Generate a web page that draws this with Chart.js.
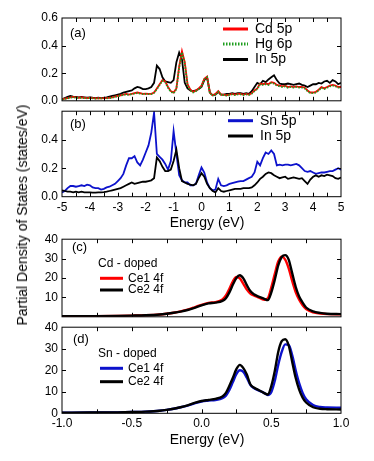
<!DOCTYPE html>
<html>
<head>
<meta charset="utf-8">
<script src="https://cdn.jsdelivr.net/npm/chart.js@4.4.0/dist/chart.umd.min.js"></script>
<style>
  body { margin: 0; background: #fff; }
  #wrap { position: relative; width: 374px; height: 461px; overflow: hidden; }
  canvas { position: absolute; left: 0; }
  #ytitle { position: absolute; left: 22px; top: 215px; transform: translate(-50%, -50%) rotate(-90deg);
            font: 14px "Liberation Sans", Arial, sans-serif; white-space: nowrap; color: #000; }
</style>
</head>
<body>
<div id="wrap">
  <canvas id="pa" width="374" height="112" style="top:0px"></canvas>
  <canvas id="pb" width="374" height="132" style="top:100px"></canvas>
  <canvas id="pc" width="374" height="100" style="top:228px"></canvas>
  <canvas id="pd" width="374" height="145" style="top:316px"></canvas>
  <div id="ytitle">Partial Density of States (states/eV)</div>
</div>
<script>
// energy grid, panels (a) and (b)
const energyAB = [-5.0, -4.9, -4.8, -4.7, -4.6, -4.5, -4.4, -4.3, -4.2, -4.1,
  -4.0, -3.9, -3.8, -3.7, -3.6, -3.5, -3.4, -3.3, -3.2, -3.1,
  -3.0, -2.9, -2.8, -2.7, -2.6, -2.5, -2.4, -2.3, -2.2, -2.1,
  -2.0, -1.9, -1.8, -1.7, -1.6, -1.5, -1.4, -1.3, -1.2, -1.1,
  -1.0, -0.9, -0.8, -0.7, -0.6, -0.5, -0.4, -0.3, -0.2, -0.1,
  0.0, 0.1, 0.2, 0.3, 0.4, 0.5, 0.6, 0.7, 0.8, 0.9,
  1.0, 1.1, 1.2, 1.3, 1.4, 1.5, 1.6, 1.7, 1.8, 1.9,
  2.0, 2.1, 2.2, 2.3, 2.4, 2.5, 2.6, 2.7, 2.8, 2.9,
  3.0, 3.1, 3.2, 3.3, 3.4, 3.5, 3.6, 3.7, 3.8, 3.9,
  4.0, 4.1, 4.2, 4.3, 4.4, 4.5, 4.6, 4.7, 4.8, 4.9, 5.0];

// (a)
const cd5p = [.012, .015, .02, .025, .028, .025, .022, .025, .022, .02,
  .022, .02, .018, .02, .018, .02, .02, .022, .025, .03,
  .035, .04, .045, .05, .045, .05, .055, .06, .055, .05,
  .052, .05, .05, .06, .09, .12, .15, .14, .1, .07,
  .06, .09, .25, .36, .28, .12, .08, .065, .075, .09,
  .11, .16, .175, .06, .04, .05, .07, .045, .045, .04,
  .045, .05, .045, .05, .05, .045, .05, .045, .055, .075,
  .09, .125, .12, .125, .12, .135, .13, .115, .11, .105,
  .11, .1, .105, .1, .105, .1, .1, .095, .075, .06,
  .06, .065, .08, .1, .09, .1, .11, .115, .11, .1, .1];
const hg6p = [.01, .014, .018, .022, .025, .023, .02, .022, .02, .018,
  .02, .018, .016, .018, .017, .018, .018, .02, .023, .028,
  .033, .038, .042, .047, .043, .048, .052, .057, .052, .048,
  .05, .048, .048, .058, .085, .115, .145, .135, .095, .065,
  .055, .085, .24, .35, .27, .11, .075, .06, .07, .085,
  .105, .155, .17, .055, .037, .045, .065, .042, .042, .038,
  .042, .047, .042, .047, .047, .042, .047, .042, .052, .07,
  .085, .12, .115, .12, .115, .13, .125, .11, .105, .1,
  .105, .095, .1, .095, .1, .095, .095, .09, .07, .055,
  .055, .06, .075, .095, .085, .095, .105, .11, .105, .095, .095];
const in5pA = [.012, .02, .028, .035, .03, .028, .025, .028, .025, .022,
  .025, .022, .02, .022, .02, .022, .025, .03, .035, .04,
  .045, .05, .06, .065, .07, .075, .09, .1, .095, .085,
  .085, .09, .1, .13, .255, .23, .17, .14, .135, .13,
  .15, .28, .35, .3, .13, .09, .075, .07, .075, .085,
  .1, .15, .17, .06, .04, .045, .065, .045, .045, .05,
  .05, .055, .05, .055, .055, .05, .055, .05, .07, .1,
  .13, .12, .145, .135, .155, .17, .185, .15, .125, .12,
  .12, .125, .12, .115, .12, .125, .115, .11, .1, .11,
  .12, .12, .13, .125, .14, .145, .13, .15, .14, .12, .13];

// (b)
const sn5p = [.03, .04, .06, .075, .075, .07, .075, .08, .075, .085,
  .08, .065, .06, .06, .05, .055, .065, .07, .08, .09,
  .11, .13, .16, .22, .27, .27, .285, .24, .22, .26,
  .31, .36, .45, .59, .3, .28, .26, .23, .19, .25,
  .46, .3, .15, .115, .1, .1, .08, .08, .09, .15,
  .205, .17, .1, .06, .045, .05, .125, .08, .075, .08,
  .09, .095, .1, .105, .11, .11, .12, .13, .14, .17,
  .245, .22, .27, .31, .3, .325, .3, .22, .225, .22,
  .225, .225, .22, .225, .23, .22, .2, .18, .175, .18,
  .17, .16, .165, .17, .17, .175, .18, .18, .19, .2, .19];
const in5pB = [.045, .04, .035, .035, .03, .035, .03, .035, .03, .03,
  .03, .028, .028, .03, .03, .032, .035, .04, .045, .05,
  .055, .06, .07, .08, .09, .1, .09, .095, .1, .105,
  .105, .11, .115, .13, .275, .25, .21, .18, .18, .19,
  .25, .33, .2, .11, .1, .09, .085, .08, .09, .13,
  .165, .14, .09, .06, .04, .03, .06, .04, .035, .04,
  .045, .05, .055, .055, .055, .06, .06, .06, .065, .08,
  .1, .125, .14, .16, .17, .165, .15, .14, .13, .135,
  .14, .125, .13, .135, .13, .125, .13, .11, .09, .12,
  .14, .15, .14, .15, .145, .155, .15, .145, .13, .125, .135];

// energy grid, panels (c) and (d)
const energyCD = [-1.0, -0.8, -0.6, -0.5, -0.4, -0.3, -0.25, -0.2, -0.15, -0.1, -0.05,
  0, 0.05, 0.1, 0.15, 0.175, 0.2, 0.225, 0.25, 0.275, 0.3, 0.325, 0.35, 0.375, 0.4,
  0.45, 0.475, 0.5, 0.525, 0.55, 0.575, 0.6, 0.625, 0.65, 0.675, 0.7, 0.725, 0.75,
  0.8, 0.85, 0.9, 1.0];

// (c) Cd - doped
const cdCe1 = [0.3, 0.35, 0.45, 0.6, 0.8, 1.2, 1.6, 2.1, 2.8, 3.7, 4.9,
  6.2, 7.2, 7.6, 9.0, 11.0, 14.5, 18.3, 20.5, 19.8, 17.0, 14.0, 12.0, 11.0, 10.3,
  8.8, 9.5, 15.0, 22.0, 28.5, 31.0, 29.5, 25.0, 18.5, 12.8, 8.8, 6.0, 4.0,
  2.3, 1.7, 1.4, 1.3];
const cdCe2 = [0.3, 0.35, 0.45, 0.6, 0.8, 1.2, 1.6, 2.1, 2.7, 3.5, 4.6,
  5.9, 6.9, 7.3, 8.2, 9.6, 12.6, 16.6, 20.0, 21.4, 19.8, 16.3, 13.3, 11.6, 10.7,
  9.3, 8.6, 12.5, 19.0, 26.5, 30.8, 31.8, 29.5, 22.5, 15.5, 10.5, 7.3, 4.8,
  2.8, 2.0, 1.6, 1.4];

// (d) Sn - doped
const snCe1 = [0.3, 0.35, 0.45, 0.6, 0.8, 1.2, 1.6, 2.1, 2.8, 3.6, 4.6,
  5.5, 5.9, 6.2, 7.0, 8.2, 10.8, 14.5, 18.2, 20.0, 19.2, 16.5, 13.2, 11.7, 10.9,
  9.4, 8.5, 9.8, 15.0, 22.5, 28.5, 32.0, 31.8, 27.0, 20.0, 14.0, 9.5, 6.5,
  3.8, 2.9, 2.7, 2.6];
const snCe2 = [0.3, 0.35, 0.45, 0.6, 0.8, 1.2, 1.6, 2.1, 2.8, 3.7, 4.8,
  5.7, 6.2, 6.7, 7.8, 9.5, 12.8, 16.5, 20.5, 22.5, 21.0, 18.0, 13.5, 12.0, 11.1,
  9.4, 8.7, 12.5, 19.5, 28.5, 33.5, 34.4, 31.5, 24.0, 16.5, 11.0, 7.3, 5.0,
  2.8, 2.1, 1.9, 1.8];

// ticks
const xLabelsAB = [-5, -4, -3, -2, -1, 0, 1, 2, 3, 4, 5];
const xMarksAB = [-4.5, -4, -3.5, -3, -2.5, -2, -1.5, -1, -0.5, 0, 0.5, 1, 1.5, 2, 2.5, 3, 3.5, 4, 4.5];
const yLabelsA = [0, 0.2, 0.4, 0.6];
const yLabelsB = [0, 0.2, 0.4];
const yMarksAB = [0.2, 0.4];
const xLabelsCD = [-1, -0.5, 0, 0.5, 1];
const xMarksCD = [-0.75, -0.5, -0.25, 0, 0.25, 0.5, 0.75];
const yLabelsC = [10, 20, 30, 40];
const yLabelsD = [0, 10, 20, 30, 40];
const yMarksCD = [10, 20, 30];

const FONT = '"Liberation Sans", Arial, Helvetica, sans-serif';
Chart.defaults.font.family = FONT;
Chart.defaults.color = '#000';

const RED = '#ff0000', GREEN = '#1e9e1e', BLUE = '#0c12cc', BLACK = '#000000';

// frame, inward ticks, panel texts and legend
const frame = {
  id: 'frame',
  afterDatasetsDraw(chart, args, o) {
    const ctx = chart.ctx, a = chart.chartArea;
    const x = chart.scales.x, y = chart.scales.y;
    ctx.save();
    ctx.strokeStyle = '#000';
    ctx.lineWidth = 1;
    ctx.strokeRect(a.left, a.top, a.right - a.left, a.bottom - a.top);
    ctx.beginPath();
    o.xMarks.forEach(v => {
      const p = Math.round(x.getPixelForValue(v)) + 0.5;
      ctx.moveTo(p, a.top); ctx.lineTo(p, a.top + 4);
      ctx.moveTo(p, a.bottom); ctx.lineTo(p, a.bottom - 4);
    });
    o.yMarks.forEach(v => {
      const p = Math.round(y.getPixelForValue(v)) + 0.5;
      ctx.moveTo(a.left, p); ctx.lineTo(a.left + 4, p);
      ctx.moveTo(a.right, p); ctx.lineTo(a.right - 4, p);
    });
    ctx.stroke();

    ctx.fillStyle = '#000';
    ctx.textBaseline = 'middle';
    o.texts.forEach(t => {
      ctx.font = t.size + 'px ' + FONT;
      ctx.textAlign = t.align || 'left';
      ctx.fillText(t.text, t.x, t.y);
    });

    const lg = o.legend;
    chart.data.datasets.forEach((ds, i) => {
      const ly = lg.ys[i];
      ctx.strokeStyle = ds.borderColor;
      ctx.lineWidth = lg.width;
      ctx.setLineDash(ds.borderDash || []);
      ctx.beginPath();
      ctx.moveTo(lg.x0, ly); ctx.lineTo(lg.x1, ly);
      ctx.stroke();
      ctx.setLineDash([]);
      ctx.font = lg.size + 'px ' + FONT;
      ctx.textAlign = 'left';
      ctx.fillText(ds.label, lg.tx, ly);
    });
    ctx.restore();
  }
};

function panel(id, o) {
  return new Chart(document.getElementById(id), {
    type: 'line',
    data: {
      datasets: o.sets.map(s => ({
        label: s.label,
        data: o.energy.map((e, i) => ({ x: e, y: s.values[i] })),
        borderColor: s.color,
        borderWidth: o.lineWidth,
        borderDash: s.dash || [],
        pointRadius: 0,
        fill: false,
        order: s.order,
        tension: 0,
        cubicInterpolationMode: o.smooth ? 'monotone' : 'default'
      }))
    },
    options: {
      responsive: false,
      animation: false,
      events: [],
      layout: { padding: o.pad },
      scales: {
        x: {
          type: 'linear', min: o.xRange[0], max: o.xRange[1],
          grid: { display: false, drawTicks: false }, border: { display: false },
          afterBuildTicks: s => { s.ticks = o.xLabels.map(v => ({ value: v })); },
          afterFit: s => { s.height = o.xHeight; },
          ticks: { display: o.showX, autoSkip: false, maxRotation: 0, padding: o.xPad,
                   font: { size: 12 }, callback: o.xFmt }
        },
        y: {
          min: o.yRange[0], max: o.yRange[1],
          grid: { display: false, drawTicks: false }, border: { display: false },
          afterBuildTicks: s => { s.ticks = o.yLabels.map(v => ({ value: v })); },
          afterFit: s => { s.width = 62; },
          ticks: { padding: 4, font: { size: 12 }, callback: o.yFmt }
        }
      },
      plugins: {
        legend: { display: false },
        tooltip: { enabled: false },
        frame: { xMarks: o.xMarks, yMarks: o.yMarks, texts: o.texts, legend: o.legend }
      }
    },
    plugins: [frame]
  });
}

// (a)
panel('pa', {
  energy: energyAB, lineWidth: 1.8, smooth: false,
  sets: [
    { label: 'Cd 5p', values: cd5p, color: RED, order: 1 },
    { label: 'Hg 6p', values: hg6p, color: GREEN, dash: [1.5, 1.5], order: 0 },
    { label: 'In 5p', values: in5pA, color: BLACK, order: 2 }
  ],
  pad: { top: 18, right: 33, bottom: 4, left: 0 },
  xRange: [-5, 5], xLabels: xLabelsAB, xMarks: xMarksAB, showX: false, xHeight: 2, xPad: 0,
  xFmt: v => String(v),
  yRange: [0, 0.6], yLabels: yLabelsA, yMarks: yMarksAB, yFmt: v => v.toFixed(1),
  texts: [{ text: '(a)', x: 70, y: 33, size: 13 }],
  legend: { x0: 223, x1: 248, tx: 255, ys: [29, 44, 59.5], size: 14, width: 3 }
});

// (b)
panel('pb', {
  energy: energyAB, lineWidth: 1.8, smooth: false,
  sets: [
    { label: 'Sn 5p', values: sn5p, color: BLUE, order: 1 },
    { label: 'In 5p', values: in5pB, color: BLACK, order: 0 }
  ],
  pad: { top: 6, right: 33, bottom: 0.9, left: 0 },
  xRange: [-5, 5], xLabels: xLabelsAB, xMarks: xMarksAB, showX: true, xHeight: 34.4, xPad: 3.4,
  xFmt: v => String(v),
  yRange: [0, 0.6], yLabels: yLabelsB, yMarks: yMarksAB, yFmt: v => v.toFixed(1),
  texts: [{ text: '(b)', x: 70, y: 24, size: 13 },
          { text: 'Energy (eV)', x: 207, y: 122.7, size: 14, align: 'center' }],
  legend: { x0: 228, x1: 253, tx: 260, ys: [20.7, 36], size: 14, width: 3 }
});

// (c)
panel('pc', {
  energy: energyCD, lineWidth: 2.4, smooth: true,
  sets: [
    { label: 'Ce1 4f', values: cdCe1, color: RED, order: 1 },
    { label: 'Ce2 4f', values: cdCe2, color: BLACK, order: 0 }
  ],
  pad: { top: 7, right: 33, bottom: 2.5, left: 0 },
  xRange: [-1, 1], xLabels: xLabelsCD, xMarks: xMarksCD, showX: false, xHeight: 2, xPad: 0,
  xFmt: v => v.toFixed(1),
  yRange: [0, 40], yLabels: yLabelsC, yMarks: yMarksCD, yFmt: v => String(v),
  texts: [{ text: '(c)', x: 72, y: 19.3, size: 13 },
          { text: 'Cd - doped', x: 98, y: 35.3, size: 12 }],
  legend: { x0: 100, x1: 123, tx: 128, ys: [50.3, 62], size: 12, width: 3 }
});

// (d)
panel('pd', {
  energy: energyCD, lineWidth: 2.4, smooth: true,
  sets: [
    { label: 'Ce1 4f', values: snCe1, color: BLUE, order: 1 },
    { label: 'Ce2 4f', values: snCe2, color: BLACK, order: 0 }
  ],
  pad: { top: 7.5, right: 33, bottom: 12.6, left: 0 },
  xRange: [-1, 1], xLabels: xLabelsCD, xMarks: xMarksCD, showX: true, xHeight: 35.1, xPad: 3.5,
  xFmt: v => v.toFixed(1),
  yRange: [0, 40], yLabels: yLabelsD, yMarks: yMarksCD, yFmt: v => String(v),
  texts: [{ text: '(d)', x: 73, y: 23.3, size: 13 },
          { text: 'Sn - doped', x: 98, y: 37.3, size: 12 },
          { text: 'Energy (eV)', x: 207, y: 124, size: 14, align: 'center' }],
  legend: { x0: 100, x1: 123, tx: 128, ys: [52.3, 65.7], size: 12, width: 3 }
});
</script>
</body>
</html>
